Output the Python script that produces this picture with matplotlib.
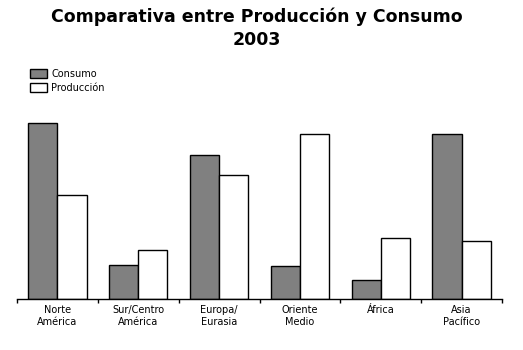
import matplotlib
matplotlib.use("Agg")
import matplotlib.pyplot as plt
import numpy as np
from matplotlib.patches import Patch

regiones = ["Norte\nAmérica", "Sur/Centro\nAmérica", "Europa/\nEurasia", "Oriente\nMedio", "África", "Asia\nPacífico"]
consumo = [24.1, 4.65, 19.7, 4.5, 2.6, 22.6]
produccion = [14.2, 6.7, 17.0, 22.6, 8.4, 7.9]

W, H = 523, 350
fig = plt.figure(figsize=(W/100, H/100), dpi=100)
left, right, bottom, top = 17, 502, 299, 110
ax = fig.add_axes([left/W, 1-bottom/H, (right-left)/W, (bottom-top)/H])

scale = 176/24.1  # px per unit
x = np.arange(len(regiones))
bw = 0.36
ax.bar(x - bw/2, consumo, bw, color="#808080", edgecolor="black", linewidth=1.0)
ax.bar(x + bw/2, produccion, bw, color="white", edgecolor="black", linewidth=1.0)
ax.set_xlim(-0.5, len(regiones)-0.5)
ax.set_ylim(0, (bottom-top)/scale)

for s in ["top", "right", "left"]:
    ax.spines[s].set_visible(False)
ax.spines["bottom"].set_linewidth(1.0)
ax.set_yticks([])
ax.set_xticks(np.arange(-0.5, len(regiones), 1.0))
ax.set_xticklabels([])
ax.tick_params(axis="x", which="major", length=3, width=1.0, direction="out")
ax.set_xticks(x, minor=True)
ax.set_xticklabels(regiones, minor=True, fontsize=7, linespacing=1.35)
ax.tick_params(axis="x", which="minor", length=0, pad=4)

fig.text(257/W, 1-17/H, "Comparativa entre Producción y Consumo", ha="center", va="center",
         fontsize=12.5, fontweight="bold")
fig.text(257/W, 1-40/H, "2003", ha="center", va="center", fontsize=12.5, fontweight="bold")

handles = [Patch(facecolor="#808080", edgecolor="black", linewidth=1.0),
           Patch(facecolor="white", edgecolor="black", linewidth=1.0)]
fig.legend(handles, ["Consumo", "Producción"], loc="upper left",
           bbox_to_anchor=(23/W, 1-62/H), frameon=False, fontsize=7,
           handlelength=1.75, handleheight=1.15, handletextpad=0.45, labelspacing=0.4,
           borderpad=0.2)

fig.savefig("out.png", dpi=100)
